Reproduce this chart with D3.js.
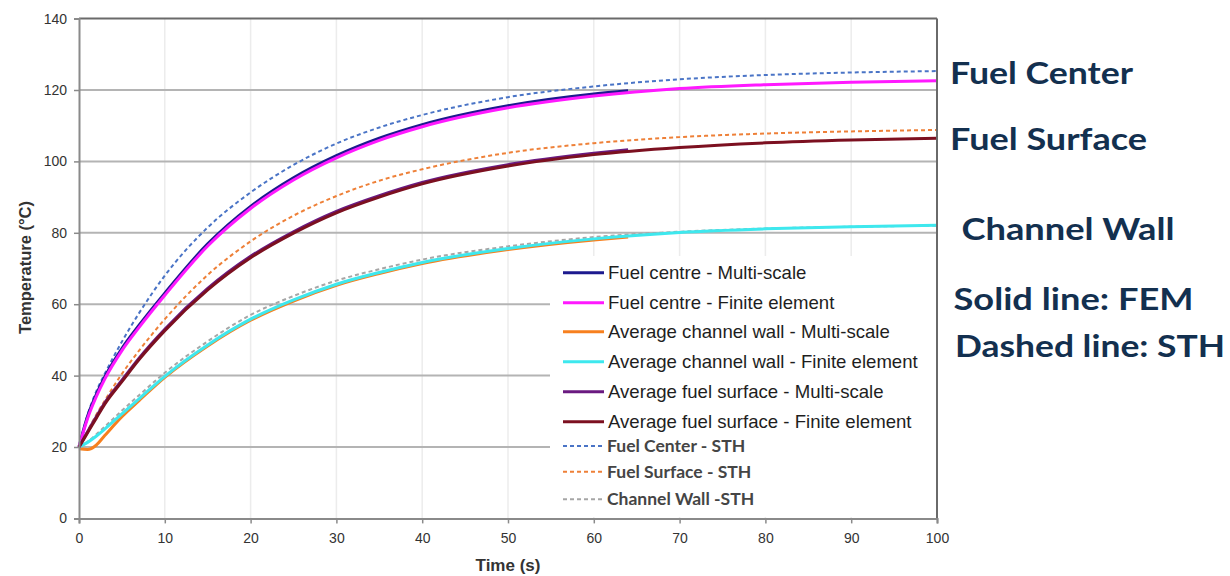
<!DOCTYPE html>
<html>
<head>
<meta charset="utf-8">
<script src="https://cdn.jsdelivr.net/npm/d3@7"></script>
<style>
  body { margin: 0; background: #fff; }
  svg { display: block; }
</style>
</head>
<body>
<svg width="1230" height="576"></svg>
<script>
// time points (s) used by each series
const tFull = [0, 1, 2, 3, 5, 7, 10, 15, 20, 25, 30, 35, 40, 50, 60, 70, 80, 90, 100];
const tMulti = [0, 1, 2, 3, 5, 7, 10, 15, 20, 25, 30, 35, 40, 50, 60, 64];

// temperatures (°C)
const fuelCentreMulti = [20, 28.6, 34.6, 39.6, 47.6, 54.1, 63.1, 76.9, 87.4, 95.4, 101.6, 106.5, 110.3, 115.6, 118.9, 119.8];
const fuelCentreFem = [20, 28, 34, 39, 47, 53.5, 62.5, 76.3, 86.8, 94.8, 101, 105.9, 109.7, 115, 118.3, 120.4, 121.5, 122.2, 122.6];
const channelWallMulti = [19.5, 19.3, 20.5, 23.2, 28.5, 33, 39.5, 48.3, 55.5, 60.9, 65.3, 68.6, 71.4, 75.3, 78, 78.8];
const channelWallFem = [20, 21.3, 23, 25, 29.3, 33.5, 39.8, 48.6, 55.8, 61.2, 65.6, 68.9, 71.7, 75.6, 78.3, 80.1, 81.1, 81.7, 82.1];
const fuelSurfaceMulti = [20, 24.3, 28.4, 32.4, 38.7, 44.9, 53, 64.4, 73.4, 80.3, 86, 90.4, 94.1, 99.1, 102.3, 103.3];
const fuelSurfaceFem = [20, 24, 28, 32, 38.3, 44.5, 52.6, 64, 73, 79.9, 85.6, 90, 93.7, 98.7, 101.9, 103.9, 105.2, 106, 106.5];
const fuelCenterSth = [20, 29, 35.5, 40.5, 49.5, 57.5, 68, 81.5, 91.3, 99, 105, 109.5, 113, 118, 121, 123, 124.2, 124.9, 125.3];
const fuelSurfaceSth = [20, 24.5, 29, 33, 40.5, 47, 55.8, 68.2, 77.6, 84.8, 90.3, 94.6, 97.8, 102.4, 105.1, 106.8, 107.8, 108.4, 108.8];
const channelWallSth = [20, 21.5, 23.5, 25.7, 30.2, 34.5, 40.8, 49.6, 57, 62.3, 66.6, 69.8, 72.5, 76.2, 78.8, 80.3, 81.2, 81.7, 82];

const xTicks = [0, 10, 20, 30, 40, 50, 60, 70, 80, 90, 100];
const yTicks = [0, 20, 40, 60, 80, 100, 120, 140];

const series = [
  { name: "Fuel centre - Multi-scale", t: tMulti, v: fuelCentreMulti, color: "#1c1a8e", width: 3, dash: null },
  { name: "Fuel centre - Finite element", t: tFull, v: fuelCentreFem, color: "#ff19ff", width: 3, dash: null },
  { name: "Average channel wall - Multi-scale", t: tMulti, v: channelWallMulti, color: "#f7801f", width: 3, dash: null },
  { name: "Average channel wall - Finite element", t: tFull, v: channelWallFem, color: "#3ee8ee", width: 3, dash: null },
  { name: "Average fuel surface - Multi-scale", t: tMulti, v: fuelSurfaceMulti, color: "#6a1a80", width: 3, dash: null },
  { name: "Average fuel surface - Finite element", t: tFull, v: fuelSurfaceFem, color: "#7c1020", width: 3, dash: null },
  { name: "Fuel Center - STH", t: tFull, v: fuelCenterSth, color: "#4a74c6", width: 2, dash: "4,3" },
  { name: "Fuel Surface - STH", t: tFull, v: fuelSurfaceSth, color: "#ee8038", width: 2, dash: "4,3" },
  { name: "Channel Wall -STH", t: tFull, v: channelWallSth, color: "#a6a6a6", width: 2, dash: "4,3" }
];

// drawing order: dashed behind, multi-scale under the finite element lines
const drawOrder = [6, 7, 8, 2, 3, 0, 1, 4, 5];

const svg = d3.select("svg");

const x = d3.scaleLinear().domain([0, 100]).range([79, 937]);
const y = d3.scaleLinear().domain([0, 140]).range([518.4, 18.6]);

// vertical grid (very faint)
svg.append("g")
  .selectAll("line")
  .data(xTicks.slice(1, -1))
  .enter()
  .append("line")
  .attr("x1", d => x(d)).attr("x2", d => x(d))
  .attr("y1", y(0)).attr("y2", y(140))
  .style("stroke", "#ececec")
  .style("stroke-width", 1.5);

// horizontal grid
svg.append("g")
  .selectAll("line")
  .data(yTicks.slice(1, -1))
  .enter()
  .append("line")
  .attr("x1", x(0)).attr("x2", x(100))
  .attr("y1", d => y(d)).attr("y2", d => y(d))
  .style("stroke", "#b4b4b4")
  .style("stroke-width", 2);

const line = d3.line()
  .x(d => x(d[0]))
  .y(d => y(d[1]))
  .curve(d3.curveMonotoneX);

drawOrder.forEach(function (i) {
  const s = series[i];
  svg.append("path")
    .datum(s.t.map((t, k) => [t, s.v[k]]))
    .attr("d", line)
    .style("fill", "none")
    .style("stroke", s.color)
    .style("stroke-width", s.width)
    .style("stroke-dasharray", s.dash)
    .style("stroke-linecap", "butt");
});

// legend
const legend = svg.append("g");
legend.append("rect")
  .attr("x", 550).attr("y", 256)
  .attr("width", 386).attr("height", 261)
  .style("fill", "#fff");

const rowY = [272.7, 302.7, 331.7, 361.7, 391.7, 421.7, 446, 471.7, 499.3];

legend.selectAll("legendSymbols")
  .data(series)
  .enter()
  .append("line")
  .attr("x1", 563).attr("x2", 604)
  .attr("y1", (d, i) => rowY[i]).attr("y2", (d, i) => rowY[i])
  .style("stroke", d => d.color)
  .style("stroke-width", d => d.width)
  .style("stroke-dasharray", d => d.dash);

legend.selectAll("legendLabels")
  .data(series)
  .enter()
  .append("text")
  .attr("x", (d, i) => i < 6 ? 608 : 607)
  .attr("y", (d, i) => rowY[i])
  .attr("dy", "0.35em")
  .style("font-family", (d, i) => i < 6 ? "Liberation Sans, Arial, sans-serif" : "Lato, sans-serif")
  .style("font-weight", (d, i) => i < 6 ? 400 : 700)
  .style("font-size", (d, i) => i < 6 ? "18.6px" : "17.5px")
  .style("fill", (d, i) => i < 6 ? "#1e1e1e" : "#454545")
  .text(d => d.name);

// frame: top and right borders
svg.append("line")
  .attr("x1", x(0)).attr("x2", x(100))
  .attr("y1", y(140)).attr("y2", y(140))
  .style("stroke", "#6a6a6a").style("stroke-width", 2);
svg.append("line")
  .attr("x1", x(100)).attr("x2", x(100))
  .attr("y1", y(140)).attr("y2", y(0))
  .style("stroke", "#6a6a6a").style("stroke-width", 2);

// axes
const xAxis = svg.append("g")
  .attr("transform", "translate(0," + y(0) + ")")
  .call(d3.axisBottom(x).tickValues(xTicks).tickSize(5).tickPadding(10));
const yAxis = svg.append("g")
  .attr("transform", "translate(" + x(0) + ",0)")
  .call(d3.axisLeft(y).tickValues(yTicks).tickSize(5).tickPadding(7));

[xAxis, yAxis].forEach(function (g) {
  g.select(".domain").style("stroke", "#8a8a8a").style("stroke-width", 2);
  g.selectAll(".tick line").style("stroke", "#8a8a8a").style("stroke-width", 1.5);
  g.selectAll(".tick text")
    .style("font-family", "Liberation Sans, Arial, sans-serif")
    .style("font-size", "14px")
    .style("fill", "#333");
});

// axis titles
svg.append("text")
  .attr("transform", "translate(31,267.5) rotate(-90)")
  .style("text-anchor", "middle")
  .style("font-family", "Liberation Sans, Arial, sans-serif")
  .style("font-weight", "bold")
  .style("font-size", "16.5px")
  .style("fill", "#333")
  .text("Temperature (°C)");

svg.append("text")
  .attr("x", 508)
  .attr("y", 571)
  .style("text-anchor", "middle")
  .style("font-family", "Liberation Sans, Arial, sans-serif")
  .style("font-weight", "bold")
  .style("font-size", "17px")
  .style("fill", "#333")
  .text("Time (s)");

// annotations at right
const notes = ["Fuel Center", "Fuel Surface", "Channel Wall", "Solid line: FEM", "Dashed line: STH"];
const noteX = [950, 950, 961.5, 953.5, 955];
const noteY = [83.5, 150, 240, 310, 356.5];
const noteWidth = [183, 197, 213, 240, 270];

svg.selectAll("noteLabels")
  .data(notes)
  .enter()
  .append("text")
  .attr("x", (d, i) => noteX[i])
  .attr("y", (d, i) => noteY[i])
  .attr("textLength", (d, i) => noteWidth[i])
  .attr("lengthAdjust", "spacingAndGlyphs")
  .style("font-family", "Lato, sans-serif")
  .style("font-weight", "bold")
  .style("font-size", "31px")
  .style("fill", "#13304f")
  .text(d => d);
</script>
</body>
</html>
